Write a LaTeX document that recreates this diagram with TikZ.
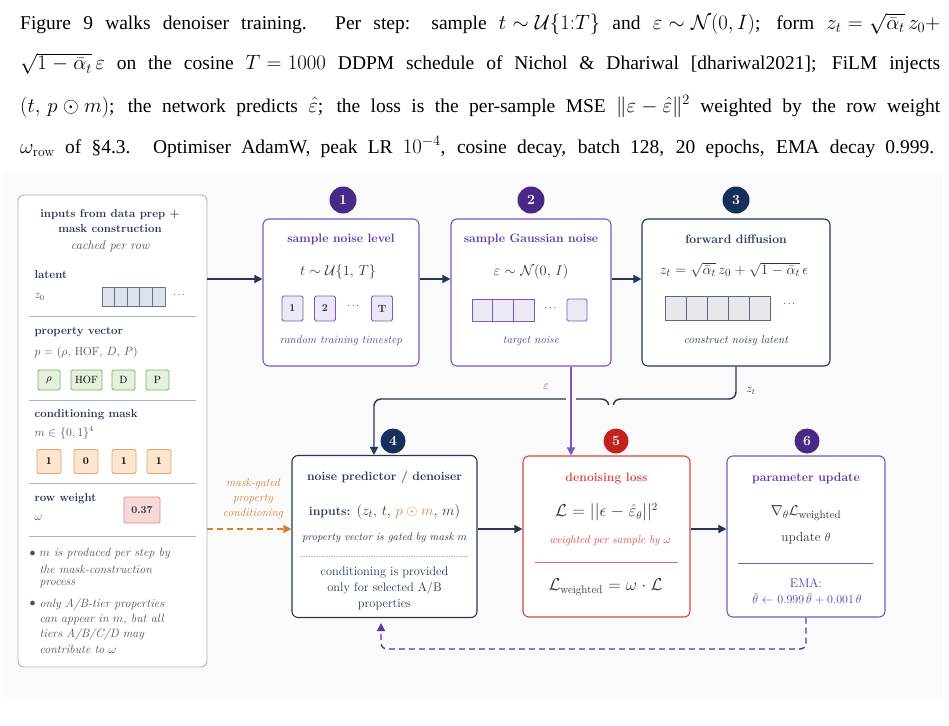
\documentclass[tikz,border=0pt]{standalone}
\usepackage{amsmath,amssymb}
\usepackage{fontspec}
\newfontfamily\timesfont{Liberation Serif}
\usetikzlibrary{arrows.meta,positioning}
\thickmuskip=5.5mu
\medmuskip=4.5mu

\definecolor{navy}{HTML}{24365A}
\definecolor{navydark}{HTML}{17305A}
\definecolor{ink}{HTML}{2A3048}
\definecolor{slate}{HTML}{46506A}
\definecolor{plum}{HTML}{5A36A6}
\definecolor{plumline}{HTML}{7A58C0}
\definecolor{plumdark}{HTML}{4A2888}
\definecolor{lossred}{HTML}{D9463F}
\definecolor{lossreddark}{HTML}{C4221F}
\definecolor{condorange}{HTML}{D9802E}
\definecolor{panelbg}{HTML}{FAFAFB}
\definecolor{framegray}{HTML}{A8B2C2}
\definecolor{latfill}{HTML}{DDE3EC}
\definecolor{lavfill}{HTML}{ECE8F5}
\definecolor{greenfill}{HTML}{E6F1DD}
\definecolor{greenline}{HTML}{7DAE6A}
\definecolor{orangefill}{HTML}{FBE5CF}
\definecolor{orangeline}{HTML}{E2A468}
\definecolor{pinkfill}{HTML}{F8D9D9}
\definecolor{pinkline}{HTML}{E08585}
\definecolor{grayfill}{HTML}{E6E8EC}

\tikzset{
    %Define standard arrow tip
    >={Triangle[length=8pt,width=8pt]},
    %Define style for boxes
    stepbox/.style={
           rectangle,
           rounded corners=6pt,
           draw, fill=white,
           line width=1.1pt,
           inner sep=0pt},
    numdot/.style={
           circle,
           minimum size=27pt,
           inner sep=0pt,
           text=white,
           font=\fontsize{14}{14}\selectfont\bfseries},
    tilebox/.style={
           rectangle,
           rounded corners=1.5pt,
           draw, line width=0.8pt,
           inner sep=0pt,
           font=\fontsize{10.5}{10}\selectfont\bfseries},
    % Define text styles
    para/.style={inner sep=0pt, anchor=base west,
           font=\timesfont\fontsize{19.5}{20}\selectfont},
    boxtitle/.style={font=\fontsize{12.2}{14}\selectfont\bfseries},
    leftitle/.style={anchor=west, text=navy,
           font=\fontsize{11.5}{13}\selectfont\bfseries},
    leftbody/.style={anchor=west, text=slate,
           font=\fontsize{11.5}{13}\selectfont},
    capnote/.style={font=\fontsize{11.3}{12}\selectfont\itshape},
    bulnote/.style={anchor=west, text=slate,
           font=\fontsize{12}{12}\selectfont\itshape},
    eqn/.style={text=ink, font=\fontsize{15.3}{16}\selectfont},
    sepline/.style={line width=0.9pt},
    % Define arrow style
    arr/.style={
           ->,
           line width=1.4pt,
           draw=navy},
    dashedarr/.style={
           ->,
           line width=1.4pt,
           dash pattern=on 6pt off 4pt}
}

\begin{document}
\begin{tikzpicture}[x=1pt,y=-1pt]
    \useasboundingbox (0,0) rectangle (949,725);

    % TEXT ABOVE THE FIGURE
    \node[para] (line1) at (20,29.5) {\makebox[920pt][s]{Figure 9 walks denoiser training. Per step: sample $t\sim\mathcal{U}\{1{:}T\}$ and $\varepsilon\sim\mathcal{N}(0,I)$; form $z_t=\sqrt{\bar{\alpha}_t}\,z_0+$}};
    \node[para] (line2) at (20,70) {\makebox[920pt][s]{$\sqrt{1-\bar{\alpha}_t}\,\varepsilon$ on the cosine $T=1000$ DDPM schedule of Nichol \& Dhariwal [dhariwal2021]; FiLM injects}};
    \node[para] (line3) at (20,112) {\makebox[920pt][s]{$(t,\,p\odot m)$; the network predicts $\hat{\varepsilon}$; the loss is the per-sample MSE $\lVert\varepsilon-\hat{\varepsilon}\rVert^2$ weighted by the row weight}};
    \node[para] (line4) at (20,153) {\makebox[914pt][s]{$\omega_{\mathrm{row}}$ of \S4.3. Optimiser AdamW, peak LR $10^{-4}$, cosine decay, batch 128, 20 epochs, EMA decay 0.999.}};

    % PANEL
    \fill[panelbg] (4,172) rectangle (943,697);

    % INPUTS
    \node[stepbox, draw=framegray, line width=0.9pt, minimum width=189pt, minimum height=472pt] (inbox) at (112.5,431) {};
    \node[text=navy, align=center, font=\fontsize{11.5}{15.5}\selectfont\bfseries] (intitle) at (110,221) {inputs from data prep +\\mask construction};
    \node[capnote, text=slate, font=\fontsize{12.5}{13}\selectfont\itshape] (incache) at (110,246) {cached per row};

    \node[leftitle] (latlab) at (31,275) {latent};
    \node[leftbody] (z0lab) at (31,297) {$z_0$};
    \foreach \i in {0,...,4}
        \node[tilebox, rounded corners=0pt, fill=latfill, draw=navy!70, minimum width=12.6pt, minimum height=19pt] (lat\i) at ({108.3+12.6*\i},296.5) {};
    \node[text=slate] (latdots) at (180,295) {$\cdots$};
    \draw[sepline, draw=framegray] (29,316) -- (196,316);

    \node[leftitle] (proplab) at (31,332) {property vector};
    \node[leftbody] (propvec) at (31,352) {$p=(\rho,\,\mathrm{HOF},\,D,\,P)$};
    \node[tilebox, fill=greenfill, draw=greenline, minimum width=22pt, minimum height=20pt, font=\fontsize{10.5}{10}\selectfont] (prho) at (49,380) {$\rho$};
    \node[tilebox, fill=greenfill, draw=greenline, minimum width=31pt, minimum height=20pt, font=\fontsize{10.5}{10}\selectfont] (phof) at (86.5,380) {HOF};
    \node[tilebox, fill=greenfill, draw=greenline, minimum width=23pt, minimum height=20pt, font=\fontsize{10.5}{10}\selectfont] (pd) at (123.5,380) {D};
    \node[tilebox, fill=greenfill, draw=greenline, minimum width=23pt, minimum height=20pt, font=\fontsize{10.5}{10}\selectfont] (pp) at (157.5,380) {P};
    \draw[sepline, draw=framegray] (29,400) -- (196,400);

    \node[leftitle] (masklab) at (31,415) {conditioning mask};
    \node[leftbody] (maskset) at (31,433) {$m\in\{0,1\}^4$};
    \node[tilebox, fill=orangefill, draw=orangeline, minimum size=24pt] (m1) at (49,461.5) {1};
    \node[tilebox, fill=orangefill, draw=orangeline, minimum size=24pt] (m2) at (86,461.5) {0};
    \node[tilebox, fill=orangefill, draw=orangeline, minimum size=24pt] (m3) at (124,461.5) {1};
    \node[tilebox, fill=orangefill, draw=orangeline, minimum size=24pt] (m4) at (159,461.5) {1};
    \draw[sepline, draw=framegray] (29,483) -- (196,483);

    \node[leftitle] (wlab) at (31,499) {row weight};
    \node[leftbody] (wsym) at (31,518) {$\omega$};
    \node[tilebox, fill=pinkfill, draw=pinkline, minimum width=36pt, minimum height=26pt, text=ink] (wval) at (142,510) {0.37};
    \draw[sepline, draw=framegray] (29,536) -- (196,536);

    \node[bulnote] (b1) at (26,554) {$\bullet$};
    \node[bulnote] (b1a) at (36,554) {$m$ is produced per step by};
    \node[bulnote] (b1b) at (36,569) {the mask-construction};
    \node[bulnote] (b1c) at (36,584) {process};
    \node[bulnote] (b2) at (26,604) {$\bullet$};
    \node[bulnote] (b2a) at (36,604) {only A/B-tier properties};
    \node[bulnote] (b2b) at (36,619) {can appear in $m$, but all};
    \node[bulnote] (b2c) at (36,634) {tiers A/B/C/D may};
    \node[bulnote] (b2d) at (36,649) {contribute to $\omega$};

    % STEP 1
    \node[stepbox, draw=plumline, minimum width=156pt, minimum height=147pt] (box1) at (341,292.5) {};
    \node[numdot, fill=plumdark] (n1) at (343,200) {1};
    \node[boxtitle, text=plum] (t1) at (341,239) {sample noise level};
    \node[eqn] (e1) at (338,272) {$t\sim\mathcal{U}\{1,\,T\}$};
    \node[tilebox, fill=lavfill, draw=plumline, minimum width=21pt, minimum height=25pt, text=ink] (s1) at (292.5,308.5) {1};
    \node[tilebox, fill=lavfill, draw=plumline, minimum width=21pt, minimum height=25pt, text=ink] (s2) at (325,308.5) {2};
    \node[text=ink] (sdots) at (354,306) {$\cdots$};
    \node[tilebox, fill=lavfill, draw=plumline, minimum width=21pt, minimum height=25pt, text=ink] (sT) at (382,308.5) {T};
    \node[capnote, text=plum] (c1) at (341,341) {random training timestep};

    % STEP 2
    \node[stepbox, draw=plumline, minimum width=160pt, minimum height=147pt] (box2) at (531,292.5) {};
    \node[numdot, fill=plumdark] (n2) at (531,200) {2};
    \node[boxtitle, text=plum] (t2) at (531,239) {sample Gaussian noise};
    \node[eqn] (e2) at (531,272) {$\varepsilon\sim\mathcal{N}(0,\,I)$};
    \foreach \i in {0,1,2}
        \node[tilebox, rounded corners=0pt, fill=lavfill, draw=plumline, minimum width=20.7pt, minimum height=22pt] (g\i) at ({482.3+20.7*\i},310) {};
    \node[text=ink] (gdots) at (551,308) {$\cdots$};
    \node[tilebox, fill=lavfill, draw=plumline, minimum width=20pt, minimum height=22pt] (gn) at (577,310) {};
    \node[capnote, text=plum] (c2) at (531,341) {target noise};

    % STEP 3
    \node[stepbox, draw=navy, minimum width=188pt, minimum height=147pt] (box3) at (736,292.5) {};
    \node[numdot, fill=navydark] (n3) at (736,200) {3};
    \node[boxtitle, text=navy] (t3) at (736,239) {forward diffusion};
    \node[eqn] (e3) at (734,270) {$z_t=\sqrt{\bar{\alpha}_t}\,z_0+\sqrt{1-\bar{\alpha}_t}\,\epsilon$};
    \foreach \i in {0,...,4}
        \node[tilebox, rounded corners=0pt, fill=grayfill, draw=navy!75, minimum width=21pt, minimum height=24pt] (f\i) at ({675.5+21*\i},308) {};
    \node[text=ink] (fdots) at (790,304) {$\cdots$};
    \node[capnote, text=navy] (c3) at (736,341) {construct noisy latent};

    % STEP 4
    \node[stepbox, draw=navy, minimum width=185pt, minimum height=162pt] (box4) at (384.5,536.5) {};
    \node[numdot, fill=navydark, minimum size=25pt] (n4) at (393,441) {4};
    \node[boxtitle, text=navy] (t4) at (384.5,477) {noise predictor / denoiser};
    \node[eqn] (e4) at (384.5,512) {{\fontsize{12.3}{14}\selectfont\bfseries\color{navy}inputs:} $(z_t,\,t,\,{\color{condorange}p\odot m},\,m)$};
    \node[capnote, text=navy, font=\fontsize{10.8}{12}\selectfont\itshape] (c4) at (384.5,538) {property vector is gated by mask $m$};
    \draw[framegray, line width=0.6pt, dash pattern=on 1.5pt off 1pt] (301,556) -- (468,556);
    \node[text=navy, align=center, font=\fontsize{12.4}{16}\selectfont] (d4) at (384.5,588) {conditioning is provided\\only for selected A/B\\properties};

    % STEP 5
    \node[stepbox, draw=lossred, minimum width=167pt, minimum height=161pt] (box5) at (606.5,536.5) {};
    \node[numdot, fill=lossreddark, minimum size=25pt] (n5) at (616,441) {5};
    \node[boxtitle, text=lossred] (t5) at (606.5,478) {denoising loss};
    \node[eqn, font=\fontsize{16}{16}\selectfont] (e5) at (606.5,512) {$\mathcal{L}=||\epsilon-\hat{\varepsilon}_\theta||^2$};
    \node[capnote, text=lossred] (c5) at (610,541) {weighted per sample by $\omega$};
    \draw[lossred!80, line width=0.9pt] (535,562) -- (678,562);
    \node[eqn, font=\fontsize{16}{16}\selectfont] (l5) at (605.5,587) {$\mathcal{L}_{\text{weighted}}=\omega\cdot\mathcal{L}$};

    % STEP 6
    \node[stepbox, draw=plumline, minimum width=158pt, minimum height=161pt] (box6) at (806,536.5) {};
    \node[numdot, fill=plumdark, minimum size=25pt] (n6) at (807,441) {6};
    \node[boxtitle, text=plum] (t6) at (806,478) {parameter update};
    \node[eqn, font=\fontsize{15.7}{16}\selectfont] (e6) at (806,513) {$\nabla_\theta\mathcal{L}_{\text{weighted}}$};
    \node[text=ink, font=\fontsize{13.2}{14}\selectfont] (u6) at (806,538) {update $\theta$};
    \draw[plumline, line width=0.9pt] (738,563) -- (873,563);
    \node[text=plum, font=\fontsize{12.5}{13}\selectfont] (ema) at (806,583) {EMA:};
    \node[text=plum, font=\fontsize{12.4}{13}\selectfont] (emaeq) at (807,599) {$\bar{\theta}\leftarrow0.999\,\bar{\theta}+0.001\,\theta$};

    % CONNECTORS
    \coordinate (rowA) at (0,279);
    \coordinate (rowB) at (0,529);
    \draw[arr] (inbox.east |- rowA) -- (box1.west |- rowA);
    \draw[arr] (box1.east |- rowA) -- (box2.west |- rowA);
    \draw[arr] (box2.east |- rowA) -- (box3.west |- rowA);
    \draw[arr] (box4.east |- rowB) -- (box5.west |- rowB);
    \draw[arr] (box5.east |- rowB) -- (box6.west |- rowB);
    \draw[dashedarr, draw=condorange] (inbox.east |- rowB) -- (box4.west |- rowB);
    \node[text=condorange, align=center, font=\fontsize{11.5}{15}\selectfont\itshape] (condlab) at (253,499) {mask-gated\\property\\conditioning};

    % z_t and epsilon into the denoiser
    \coordinate (bracetip) at (611,405);
    \coordinate (zdrop) at (374,399);
    \coordinate (epsx) at (571,380);
    \draw[navy, line width=1.4pt, rounded corners=7pt] (box3.south) |- ([xshift=10pt]bracetip |- zdrop);
    \draw[navy, line width=1.4pt] ([xshift=10pt]bracetip |- zdrop) to[out=180,in=90] ([xshift=2.5pt]bracetip);
    \draw[navy, line width=1.4pt] ([xshift=-2.5pt]bracetip) to[out=90,in=0] ([xshift=-10pt]bracetip |- zdrop);
    \draw[arr, rounded corners=7pt] ([xshift=-10pt]bracetip |- zdrop) -- (zdrop) -- (zdrop |- box4.north);
    \fill[panelbg] (566,394) rectangle (576,404);
    \draw[->, plumline, line width=1.4pt] (box2.south -| epsx) -- (box5.north -| epsx);
    \node[text=plum, font=\fontsize{12}{12}\selectfont] (epslab) at (546,387) {$\varepsilon$};
    \node[text=navy, font=\fontsize{12}{12}\selectfont] (ztlab) at (751,391) {$z_t$};

    % EMA feedback
    \coordinate (loopback) at (381,649);
    \draw[dashedarr, draw=plum, rounded corners=6pt, shorten >=5pt] (box6.south) |- (loopback) -- (loopback |- box4.south);
\end{tikzpicture}
\end{document}
